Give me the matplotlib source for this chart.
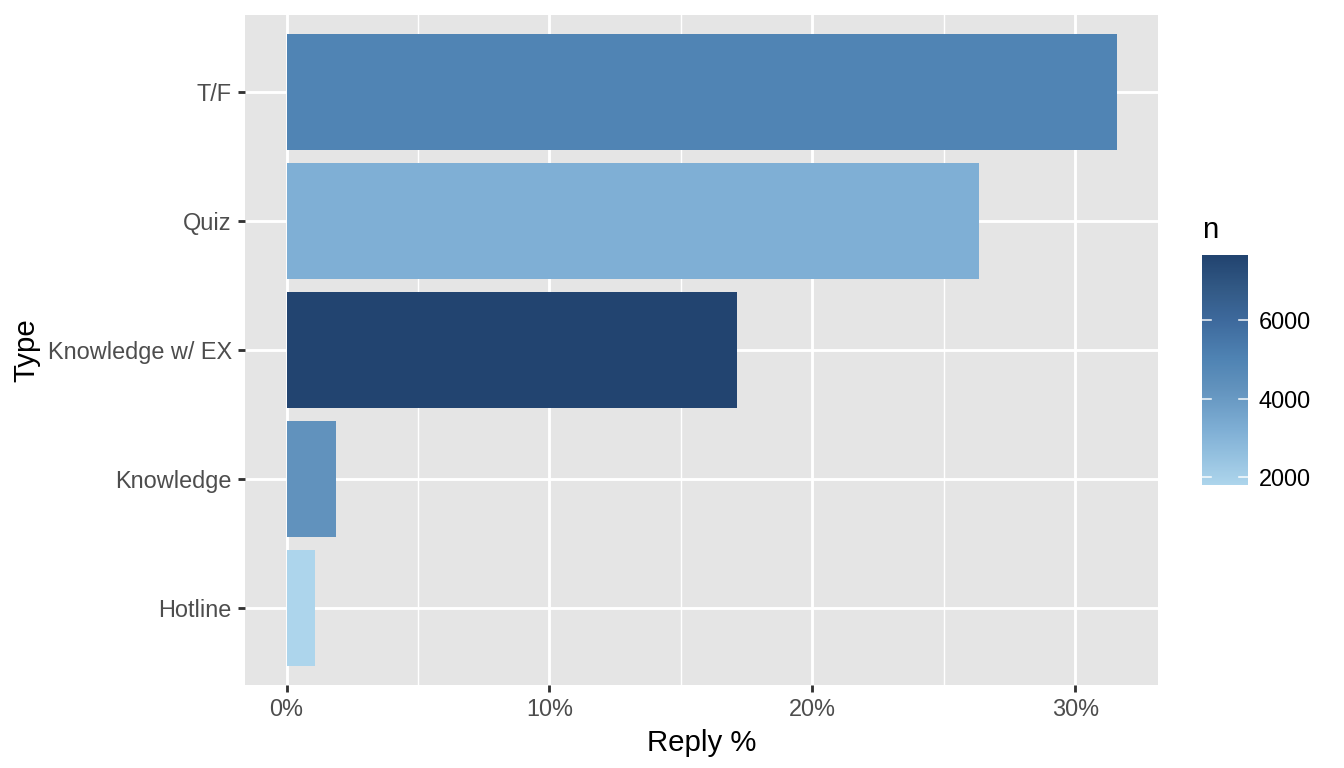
import numpy as np
import matplotlib
matplotlib.use("Agg")
import matplotlib.pyplot as plt
from matplotlib.colors import LinearSegmentedColormap, Normalize

plt.rcParams['font.family'] = ['Liberation Sans', 'DejaVu Sans']

# ---- data ----
categories = ["Hotline", "Knowledge", "Knowledge w/ EX", "Quiz", "T/F"]
reply_pct = [1.07, 1.87, 17.13, 26.34, 31.56]
n_values = [1800, 4300, 7670, 3200, 5000]
x_ticks = [0, 10, 20, 30]
x_ticklabels = ["0%", "10%", "20%", "30%"]
cbar_ticks = [2000, 4000, 6000]

# colour scale stops (value, colour)
scale_values = [1800, 3200, 4300, 5000, 6000, 6800, 7670]
scale_colors = ["#ADD5EC", "#7FAFD5", "#6192BD", "#5084B4", "#3E6A9D", "#335A86", "#224470"]

nmin, nmax = min(n_values), max(n_values)
norm = Normalize(nmin, nmax)
cmap = LinearSegmentedColormap.from_list(
    "nfill", [((v - nmin) / (nmax - nmin), c) for v, c in zip(scale_values, scale_colors)])

# ---- figure ----
fig = plt.figure(figsize=(7, 4), dpi=192)
ax = fig.add_axes([245 / 1344, 83 / 768, (1158 - 245) / 1344, (685 - 15) / 768])
ax.set_facecolor("#E5E5E5")
for s in ax.spines.values():
    s.set_visible(False)

ypos = np.arange(len(categories))
xmax = max(reply_pct)
ax.set_xlim(-0.05 * xmax, 1.05 * xmax)
ax.set_ylim(-0.6, len(categories) - 0.4)

# grid
for v in [5, 15, 25]:
    ax.axvline(v, color="white", lw=0.53, zorder=0.5)
for v in x_ticks:
    ax.axvline(v, color="white", lw=1.07, zorder=0.6)
for y in ypos:
    ax.axhline(y, color="white", lw=1.07, zorder=0.6)

ax.barh(ypos, reply_pct, height=0.9, color=[cmap(norm(v)) for v in n_values], zorder=2)

ax.set_xticks(x_ticks)
ax.set_xticklabels(x_ticklabels)
ax.set_yticks(ypos)
ax.set_yticklabels(categories)
ax.tick_params(axis='both', length=2.75, width=1.07, color="#333333",
               labelcolor="#4D4D4D", labelsize=8.8, pad=2.2)
ax.set_xlabel("Reply %", fontsize=11, color="black", labelpad=2.75)
ax.set_ylabel("Type", fontsize=11, color="black", labelpad=2.75)

# ---- colorbar ----
cax = fig.add_axes([1202 / 1344, (768 - 485) / 768, 46 / 1344, 230 / 768])
grad = np.linspace(nmin, nmax, 300)
cax.imshow(grad[:, None], aspect='auto', origin='lower', extent=[0, 1, nmin, nmax],
           cmap=cmap, norm=norm)
cax.set_xlim(0, 1)
cax.set_ylim(nmin, nmax)
for s in cax.spines.values():
    s.set_visible(False)
cax.set_xticks([])
cax.yaxis.tick_right()
cax.set_yticks(cbar_ticks)
cax.set_yticklabels([str(t) for t in cbar_ticks])
cax.tick_params(axis='y', length=0, labelsize=8.8, labelcolor="black", pad=4)
for t in cbar_ticks:
    cax.plot([0, 0.2], [t, t], color="white", lw=0.6, alpha=0.9)
    cax.plot([0.8, 1], [t, t], color="white", lw=0.6, alpha=0.9)
fig.text(1202 / 1344, (768 - 230) / 768, "n", fontsize=11, ha="left", va="center")

fig.savefig("out.png", dpi=192, facecolor="white")
